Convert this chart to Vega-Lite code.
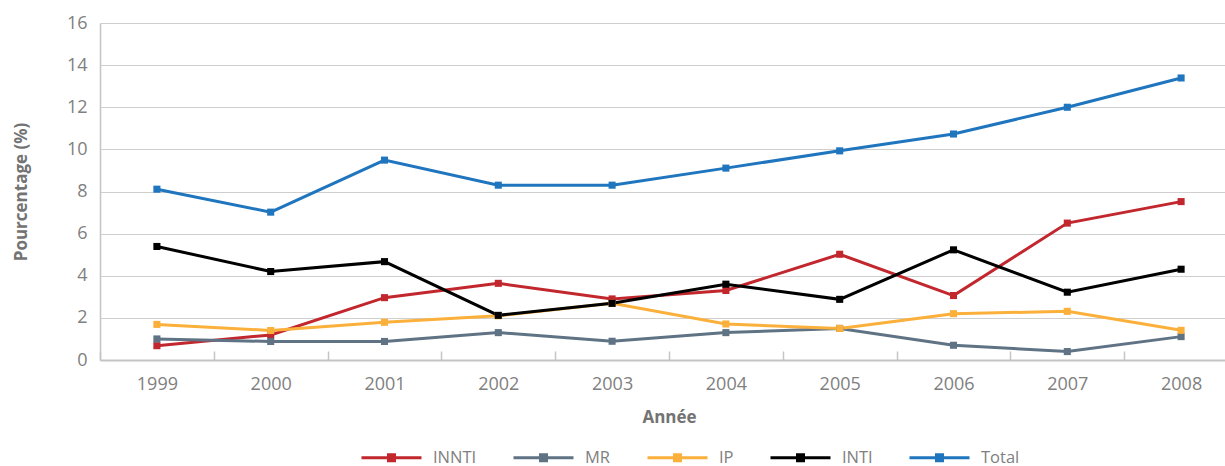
{
  "$schema": "https://vega.github.io/schema/vega-lite/v6.json",
  "width": 1125,
  "height": 337,
  "autosize": "none",
  "padding": {"left": 100, "top": 23, "right": 0, "bottom": 106},
  "background": "white",
  "config": {"view": {"stroke": null}, "font": "Open Sans"},
  "data": {
    "values": [
      {"series": "INNTI", "year": "1999", "value": 0.68},
      {"series": "INNTI", "year": "2000", "value": 1.19},
      {"series": "INNTI", "year": "2001", "value": 2.96},
      {"series": "INNTI", "year": "2002", "value": 3.64},
      {"series": "INNTI", "year": "2003", "value": 2.9},
      {"series": "INNTI", "year": "2004", "value": 3.3},
      {"series": "INNTI", "year": "2005", "value": 5.02},
      {"series": "INNTI", "year": "2006", "value": 3.06},
      {"series": "INNTI", "year": "2007", "value": 6.5},
      {"series": "INNTI", "year": "2008", "value": 7.52},
      {"series": "MR", "year": "1999", "value": 1.0},
      {"series": "MR", "year": "2000", "value": 0.88},
      {"series": "MR", "year": "2001", "value": 0.88},
      {"series": "MR", "year": "2002", "value": 1.3},
      {"series": "MR", "year": "2003", "value": 0.89},
      {"series": "MR", "year": "2004", "value": 1.3},
      {"series": "MR", "year": "2005", "value": 1.5},
      {"series": "MR", "year": "2006", "value": 0.7},
      {"series": "MR", "year": "2007", "value": 0.4},
      {"series": "MR", "year": "2008", "value": 1.11},
      {"series": "IP", "year": "1999", "value": 1.69},
      {"series": "IP", "year": "2000", "value": 1.4},
      {"series": "IP", "year": "2001", "value": 1.79},
      {"series": "IP", "year": "2002", "value": 2.1},
      {"series": "IP", "year": "2003", "value": 2.69},
      {"series": "IP", "year": "2004", "value": 1.71},
      {"series": "IP", "year": "2005", "value": 1.5},
      {"series": "IP", "year": "2006", "value": 2.2},
      {"series": "IP", "year": "2007", "value": 2.31},
      {"series": "IP", "year": "2008", "value": 1.41},
      {"series": "INTI", "year": "1999", "value": 5.39},
      {"series": "INTI", "year": "2000", "value": 4.2},
      {"series": "INTI", "year": "2001", "value": 4.67},
      {"series": "INTI", "year": "2002", "value": 2.12},
      {"series": "INTI", "year": "2003", "value": 2.69},
      {"series": "INTI", "year": "2004", "value": 3.6},
      {"series": "INTI", "year": "2005", "value": 2.88},
      {"series": "INTI", "year": "2006", "value": 5.23},
      {"series": "INTI", "year": "2007", "value": 3.22},
      {"series": "INTI", "year": "2008", "value": 4.31},
      {"series": "Total", "year": "1999", "value": 8.11},
      {"series": "Total", "year": "2000", "value": 7.02},
      {"series": "Total", "year": "2001", "value": 9.49},
      {"series": "Total", "year": "2002", "value": 8.3},
      {"series": "Total", "year": "2003", "value": 8.3},
      {"series": "Total", "year": "2004", "value": 9.11},
      {"series": "Total", "year": "2005", "value": 9.93},
      {"series": "Total", "year": "2006", "value": 10.73},
      {"series": "Total", "year": "2007", "value": 12.0},
      {"series": "Total", "year": "2008", "value": 13.39}
    ]
  },
  "mark": {
    "type": "line",
    "strokeWidth": 3,
    "point": {"shape": "square", "filled": true, "size": 50, "opacity": 1}
  },
  "encoding": {
    "x": {
      "field": "year",
      "type": "ordinal",
      "scale": {"type": "band", "paddingInner": 0, "paddingOuter": 0, "range": [0, 1138]},
      "axis": {
        "title": "Année",
        "labelAngle": 0,
        "tickBand": "extent",
        "tickSize": -9,
        "tickWidth": 1.5,
        "tickColor": "#c4c4c4",
        "domainColor": "#c4c4c4",
        "domainWidth": 2,
        "grid": false,
        "labelPadding": 24,
        "labelFontSize": 18,
        "labelColor": "#808080",
        "titleFontSize": 17,
        "titleFontWeight": "bold",
        "titleColor": "#737373",
        "titlePadding": 16
      }
    },
    "y": {
      "field": "value",
      "type": "quantitative",
      "scale": {"domain": [0, 16]},
      "axis": {
        "title": "Pourcentage (%)",
        "values": [0, 2, 4, 6, 8, 10, 12, 14, 16],
        "ticks": false,
        "grid": true,
        "gridColor": "#cfcfcf",
        "gridWidth": 1.2,
        "domainColor": "#c4c4c4",
        "domainWidth": 1.5,
        "labelPadding": 13,
        "labelFontSize": 18,
        "labelColor": "#808080",
        "titleFontSize": 17,
        "titleFontWeight": "bold",
        "titleColor": "#737373",
        "titlePadding": 36
      }
    },
    "color": {
      "field": "series",
      "type": "nominal",
      "scale": {
        "domain": ["INNTI", "MR", "IP", "INTI", "Total"],
        "range": ["#C1272D", "#5F7385", "#FBB03B", "#000000", "#1F75BE"]
      },
      "legend": {
        "orient": "none",
        "legendX": 275,
        "legendY": 418,
        "direction": "horizontal",
        "title": null,
        "symbolType": "M-2,0H2M-0.2,-0.2H0.2V0.2H-0.2Z",
        "symbolSize": 900,
        "symbolStrokeWidth": 3,
        "labelFontSize": 16.5,
        "labelColor": "#808080",
        "labelOffset": 25,
        "columnPadding": 30,
        "encode": {"symbols": {"update": {"fill": {"scale": "color", "field": "value"}}}}
      }
    }
  }
}
